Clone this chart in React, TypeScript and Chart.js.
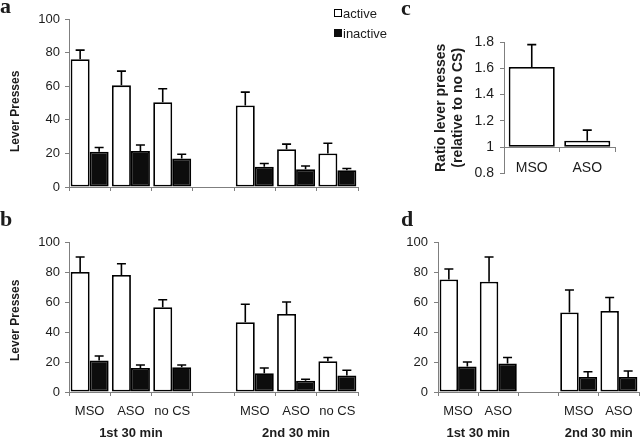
import React, { useEffect, useRef } from 'react';
import { Chart, registerables } from 'chart.js';

Chart.register(...registerables);

const FONT = "'Liberation Sans', Arial, Helvetica, sans-serif";
const SERIF = "'Liberation Serif', 'Times New Roman', serif";
const AXIS = '#7f7f7f';
const TEXT = '#1c1c1c';

// ---------- data ----------
const leverTicks = [0, 20, 40, 60, 80, 100];
const groupLabels = ['1st 30 min', '2nd 30 min'];

// panel a
const labelsA = ['MSO', 'ASO', 'no CS', '', 'MSO', 'ASO', 'no CS'];
const activeA = [76, 60.5, 50.5, null, 48.5, 22.5, 20];
const activeErrA = [5.5, 8.5, 8, null, 8, 3, 6];
const inactiveA = [21, 21.5, 17, null, 12, 10.5, 10];
const inactiveErrA = [2.5, 3.5, 2.5, null, 2, 2, 1];

// panel b
const labelsB = ['MSO', 'ASO', 'no CS', '', 'MSO', 'ASO', 'no CS'];
const activeB = [80, 78, 56.5, null, 46.5, 52, 20.5];
const activeErrB = [10, 7.5, 5, null, 12, 8, 2.5];
const inactiveB = [21, 16, 16.5, null, 12.5, 7.5, 11];
const inactiveErrB = [3, 2, 1.5, null, 3.5, 1, 3.5];
const groupPosB = [1.5, 5.5];

// panel c
const labelsC = ['MSO', 'ASO'];
const ratioC = [1.61, 1.05];
const ratioErrC = [0.17, 0.08];
const ratioTicks = [0.8, 1, 1.2, 1.4, 1.6, 1.8];
const ratioBase = 1;

// panel d
const labelsD = ['MSO', 'ASO', '', 'MSO', 'ASO'];
const activeD = [75, 73.5, null, 53, 54];
const activeErrD = [7, 16.5, null, 15, 9];
const inactiveD = [17, 19, null, 10, 10];
const inactiveErrD = [3, 4, null, 3.5, 4];
const groupPosD = [1, 4];

// ---------- error bar plugin ----------
const errorBarPlugin = {
  id: 'errorBars',
  afterDatasetsDraw(chart: any) {
    const ctx = chart.ctx;
    chart.data.datasets.forEach((ds: any, di: number) => {
      const errs = ds.errors;
      if (!errs) return;
      const meta = chart.getDatasetMeta(di);
      const yScale = chart.scales[meta.yAxisID];
      meta.data.forEach((el: any, i: number) => {
        const v = ds.data[i];
        const e = errs[i];
        if (v == null || e == null) return;
        const x = el.x;
        const yTop = yScale.getPixelForValue(v + e);
        const yBar = el.y;
        ctx.save();
        ctx.strokeStyle = '#000';
        ctx.lineWidth = 1.6;
        ctx.beginPath();
        ctx.moveTo(x, yBar);
        ctx.lineTo(x, yTop);
        ctx.moveTo(x - 4.5, yTop);
        ctx.lineTo(x + 4.5, yTop);
        ctx.stroke();
        ctx.restore();
      });
    });
  },
};

type LeverParams = {
  labels: string[];
  active: (number | null)[];
  activeErr: (number | null)[];
  inactive: (number | null)[];
  inactiveErr: (number | null)[];
  showLabels: boolean;
  yTitle?: string;
  yTitlePad: number;
  yWidth: number;
  yTickPad: number;
  xHeight: number;
  padding: any;
  groupPos?: number[];
};

function leverConfig(p: LeverParams): any {
  const scales: any = {
    x: {
      type: 'category',
      axis: 'x',
      position: 'bottom',
      weight: 0,
      offset: true,
      grid: { display: true, offset: true, drawOnChartArea: false, drawTicks: true, tickLength: 4, color: AXIS, lineWidth: 1 },
      border: { display: true, color: AXIS, width: 1 },
      ticks: { display: p.showLabels, padding: 8, autoSkip: false, maxRotation: 0, font: { family: FONT, size: 13 }, color: TEXT },
      afterFit: (s: any) => { s.height = p.xHeight; },
    },
    y: {
      type: 'linear',
      min: leverTicks[0],
      max: leverTicks[leverTicks.length - 1],
      beginAtZero: false,
      grid: { display: true, drawOnChartArea: false, drawTicks: true, tickLength: 4, color: AXIS, lineWidth: 1 },
      border: { display: true, color: AXIS, width: 1 },
      ticks: { stepSize: leverTicks[1] - leverTicks[0], padding: p.yTickPad, font: { family: FONT, size: 13 }, color: TEXT },
      title: p.yTitle
        ? { display: true, text: p.yTitle, color: TEXT, font: { family: FONT, size: 12, weight: 'bold', lineHeight: 1.2 }, padding: { top: p.yTitlePad, bottom: 0 } }
        : { display: false },
      afterFit: (s: any) => { s.width = p.yWidth; },
    },
  };
  if (p.groupPos) {
    const gp = p.groupPos;
    scales.x2 = {
      type: 'linear',
      axis: 'x',
      position: 'bottom',
      weight: 1,
      offset: false,
      min: 0,
      max: p.labels.length,
      grid: { display: false, drawTicks: false, offset: false },
      border: { display: false },
      ticks: {
        padding: 4,
        autoSkip: false,
        maxRotation: 0,
        font: { family: FONT, size: 13, weight: 'bold' },
        color: TEXT,
        callback: (_v: any, i: number) => groupLabels[i],
      },
      afterBuildTicks: (s: any) => { s.ticks = gp.map((v) => ({ value: v })); },
      afterFit: (s: any) => { s.height = 19; },
    };
  }
  const barCommon = { borderColor: '#000', borderWidth: 1.8, borderSkipped: false, categoryPercentage: 0.92, barPercentage: 1 };
  return {
    type: 'bar',
    data: {
      labels: p.labels,
      datasets: [
        { label: 'active', data: p.active, errors: p.activeErr, backgroundColor: '#ffffff', ...barCommon },
        { label: 'inactive', data: p.inactive, errors: p.inactiveErr, backgroundColor: '#0d0d0d', ...barCommon },
      ],
    },
    options: {
      responsive: false,
      animation: false,
      events: [],
      layout: { padding: p.padding },
      plugins: { legend: { display: false }, tooltip: { enabled: false } },
      scales,
    },
    plugins: [errorBarPlugin],
  };
}

function ratioConfig(): any {
  return {
    type: 'bar',
    data: {
      labels: labelsC,
      datasets: [
        {
          label: 'ratio',
          data: ratioC,
          errors: ratioErrC,
          base: ratioBase,
          backgroundColor: '#ffffff',
          borderColor: '#000',
          borderWidth: 1.8,
          borderSkipped: false,
          categoryPercentage: 0.83,
          barPercentage: 1,
        },
      ],
    },
    options: {
      responsive: false,
      animation: false,
      events: [],
      layout: { padding: { top: 42, right: 5, bottom: 9, left: 0 } },
      plugins: { legend: { display: false }, tooltip: { enabled: false } },
      scales: {
        x: {
          type: 'category',
          position: { y: ratioBase },
          offset: true,
          grid: { display: true, offset: true, drawOnChartArea: false, drawTicks: true, tickLength: 4, color: AXIS, lineWidth: 1 },
          border: { display: true, color: AXIS, width: 1 },
          ticks: { padding: 8, autoSkip: false, maxRotation: 0, font: { family: FONT, size: 14 }, color: TEXT },
        },
        y: {
          type: 'linear',
          min: ratioTicks[0],
          max: ratioTicks[ratioTicks.length - 1],
          beginAtZero: false,
          grid: { display: true, drawOnChartArea: false, drawTicks: true, tickLength: 4, color: AXIS, lineWidth: 1 },
          border: { display: true, color: AXIS, width: 1 },
          ticks: {
            stepSize: 0.2,
            padding: 6,
            font: { family: FONT, size: 14 },
            color: TEXT,
            callback: (v: any) => String(Math.round(Number(v) * 10) / 10),
          },
          title: {
            display: true,
            text: ['Ratio lever presses', '(relative to no CS)'],
            color: TEXT,
            font: { family: FONT, size: 14, weight: 'bold', lineHeight: 1.15 },
            padding: { top: 13.5, bottom: 0 },
          },
          afterFit: (s: any) => { s.width = 84; },
        },
      },
    },
    plugins: [errorBarPlugin],
  };
}

function Panel({ make, left, top, width, height }: { make: () => any; left: number; top: number; width: number; height: number }) {
  const ref = useRef<HTMLCanvasElement>(null);
  useEffect(() => {
    const chart = new Chart(ref.current as HTMLCanvasElement, make());
    return () => chart.destroy();
  }, []);
  return (
    <canvas
      ref={ref}
      width={width}
      height={height}
      style={{ position: 'absolute', left, top, width, height, display: 'block' }}
    />
  );
}

const letterStyle: React.CSSProperties = {
  position: 'absolute',
  fontFamily: SERIF,
  fontWeight: 'bold',
  fontSize: 22,
  lineHeight: '22px',
  color: TEXT,
};

const legendText: React.CSSProperties = {
  position: 'absolute',
  fontFamily: FONT,
  fontSize: 13,
  lineHeight: '13px',
  color: TEXT,
  whiteSpace: 'nowrap',
};

export default function App() {
  return (
    <div style={{ position: 'absolute', left: 0, top: 0, width: 640, height: 441, overflow: 'hidden', background: '#fff' }}>
      <Panel
        left={0}
        top={0}
        width={366}
        height={200}
        make={() =>
          leverConfig({
            labels: labelsA,
            active: activeA,
            activeErr: activeErrA,
            inactive: inactiveA,
            inactiveErr: inactiveErrA,
            showLabels: false,
            yTitle: 'Lever Presses     ',
            yTitlePad: 8,
            yWidth: 69,
            yTickPad: 5,
            xHeight: 13,
            padding: { top: 19, right: 8, bottom: 0, left: 0 },
          })
        }
      />
      <Panel
        left={0}
        top={200}
        width={366}
        height={241}
        make={() =>
          leverConfig({
            labels: labelsB,
            active: activeB,
            activeErr: activeErrB,
            inactive: inactiveB,
            inactiveErr: inactiveErrB,
            showLabels: true,
            yTitle: 'Lever Presses  ',
            yTitlePad: 8.5,
            yWidth: 69,
            yTickPad: 5,
            xHeight: 30,
            padding: { top: 42, right: 8, bottom: 0, left: 0 },
            groupPos: groupPosB,
          })
        }
      />
      <Panel left={420} top={0} width={200} height={188} make={ratioConfig} />
      <Panel
        left={400}
        top={200}
        width={250}
        height={241}
        make={() =>
          leverConfig({
            labels: labelsD,
            active: activeD,
            activeErr: activeErrD,
            inactive: inactiveD,
            inactiveErr: inactiveErrD,
            showLabels: true,
            yTitlePad: 0,
            yWidth: 38,
            yTickPad: 6,
            xHeight: 30,
            padding: { top: 42, right: 11, bottom: 0, left: 0 },
            groupPos: groupPosD,
          })
        }
      />

      {/* legend for panel a */}
      <div style={{ position: 'absolute', left: 334, top: 9, width: 8, height: 8, boxSizing: 'border-box', border: '1px solid #000', background: '#fff' }} />
      <div style={{ ...legendText, left: 343, top: 7 }}>active</div>
      <div style={{ position: 'absolute', left: 334, top: 29, width: 8, height: 8, background: '#0d0d0d' }} />
      <div style={{ ...legendText, left: 343, top: 27 }}>inactive</div>

      {/* panel letters */}
      <div style={{ ...letterStyle, left: 0, top: -5 }}>a</div>
      <div style={{ ...letterStyle, left: 0, top: 208 }}>b</div>
      <div style={{ ...letterStyle, left: 401, top: -3 }}>c</div>
      <div style={{ ...letterStyle, left: 401, top: 208 }}>d</div>
    </div>
  );
}
